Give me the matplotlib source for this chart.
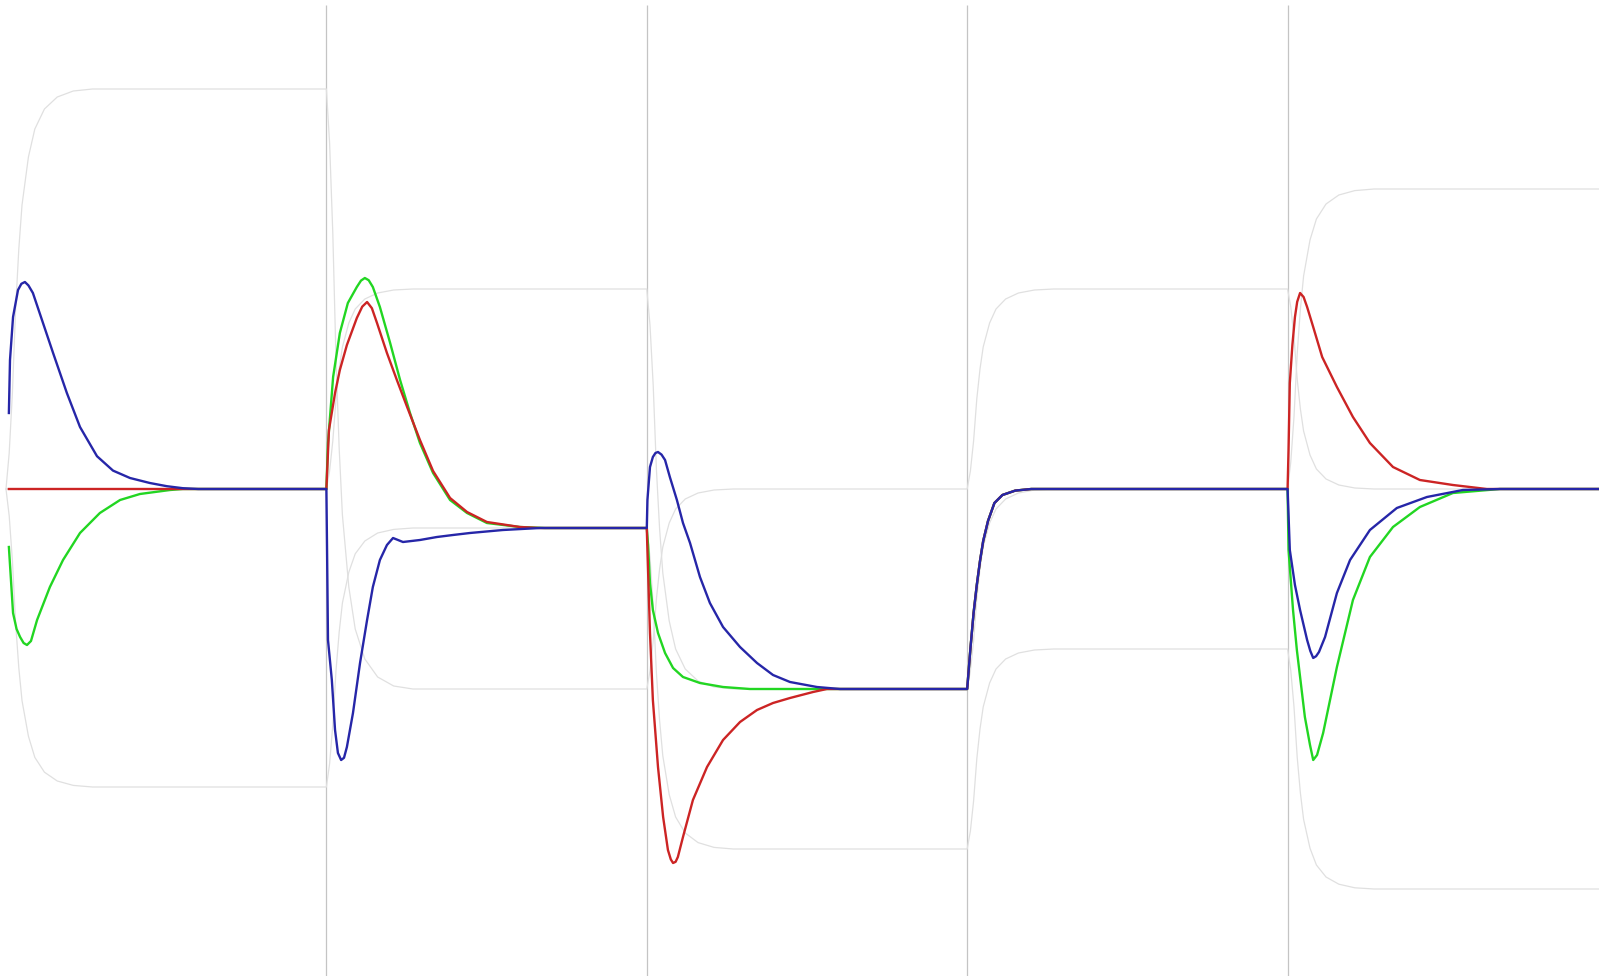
import matplotlib
matplotlib.use("Agg")
import matplotlib.pyplot as plt

# five steps, 100 time units each
panel_starts = [0, 100, 200, 300, 400]
t_last = 498

# settling shape shared by all three channels in step 4
settle_t = [301, 302, 303, 304, 305, 306.5, 308.5, 311, 315, 320, 400]
settle_v = [-40, -31, -24, -18, -13, -8, -3.5, -1.5, -0.4, 0, 0]

# red channel
red_t = ([0.9, 100,
          100.8, 102.7, 104.2, 106.4, 109.5, 111.2, 112.7, 114.2, 115.8, 118.9, 122.0, 125.2,
          129.2, 133.3, 138.6, 143.9, 150.1, 160.4, 166.7, 200,
          200.2, 201.0, 201.9, 203.5, 205.1, 206.6, 207.5, 208.2, 209.0, 209.7, 211.3, 214.4,
          218.8, 223.8, 229.1, 234.4, 239.4, 244.7, 251.9, 256.2, 300]
         + settle_t +
         [400.3, 400.7, 401.5, 402.3, 403.0, 403.9, 405.0, 406.1, 408.0, 410.8, 415.4, 420.4,
          425.7, 432.9, 441.3, 451.6, 462.2, t_last])
red_v = ([0, 0,
          14.75, 24, 29.75, 36, 42.75, 45.6, 46.75, 45.2, 41.5, 34, 27.25, 20.5,
          12.25, 4.5, -2.25, -5.75, -8.25, -9.5, -9.75, -9.75,
          -15.25, -36, -52.75, -69.5, -82, -90.25, -92.6, -93.5, -93.2, -92, -87, -77.75,
          -69.5, -62.75, -58.25, -55.25, -53.5, -52.25, -50.75, -50, -50]
         + settle_v +
         [9.75, 26.5, 36, 43, 46.8, 49, 48, 45.5, 40.5, 33, 25.5, 18,
          11.5, 5.5, 2.25, 1, 0, 0])

# green channel
green_t = ([0.9, 2.2, 3.3, 4.4, 5.5, 6.55, 7.8, 9.7, 13.7, 17.8, 23.1, 29.3, 35.6, 41.8,
            51.2, 55.2, 100,
            100.5, 102.1, 104.2, 106.7, 109.5, 110.8, 112.0, 113.2, 114.5, 116.7, 119.9, 123.0,
            126.1, 129.2, 133.3, 138.6, 143.9, 150.1, 160.4, 168.2, 200,
            200.4, 201.0, 201.9, 203.5, 205.7, 208.2, 211.3, 216.6, 223.8, 232.2, 300]
           + settle_t +
           [400.3, 401.7, 402.9, 405.4, 407.0, 408.0, 409.2, 411.1, 415.4, 420.4, 425.7, 432.9,
            441.3, 451.6, 466.3, t_last])
green_v = ([-14.5, -31, -35, -37, -38.5, -39, -38, -32.75, -24.5, -17.75, -11, -6, -2.75, -1.25,
            -0.25, 0, 0,
            11.5, 28, 39, 46.5, 50.5, 52.1, 52.75, 52.2, 50.5, 45.5, 36.5, 27.25,
            19, 11.5, 4, -2.75, -6, -8.5, -9.5, -9.75, -9.75,
            -14, -23.5, -30.25, -36, -41, -44.75, -47, -48.5, -49.5, -50, -50]
           + settle_v +
           [-15.25, -30.25, -40.25, -57, -64, -67.75, -66.5, -61, -44.5, -27.75, -17, -9.5,
            -4.5, -1, 0, 0])

# blue channel
blue_t = ([0.9, 1.25, 2.2, 3.75, 4.8, 5.9, 7.0, 8.4, 11.55, 14.7, 19.0, 23.1, 28.4, 33.4,
           38.7, 44.9, 50.2, 55.2, 60, 100,
           100.2, 100.5, 101.7, 102.7, 103.6, 104.6, 105.5, 106.4, 108.3, 110.5, 112.7, 114.5,
           116.7, 118.9, 120.8, 123.9, 129.2, 134.5, 139.5, 144.8, 155.1, 166.7, 200,
           200.2, 201.0, 201.9, 202.7, 203.5, 204.6, 205.7, 207.2, 209.4, 211.3, 213.5, 216.6,
           219.7, 223.8, 229.1, 234.4, 239.4, 244.7, 253.1, 260.3, 300]
          + settle_t +
          [400.7, 402.3, 403.9, 406.1, 407.1, 408.0, 408.9, 409.8, 411.7, 415.4, 419.5, 425.7,
           434.1, 443.5, 454.7, 466.3, t_last])
blue_v = ([19, 32.25, 43, 49.75, 51.3, 51.75, 50.9, 49, 41.5, 34, 24, 15.5, 8.2, 4.6,
           2.75, 1.5, 0.7, 0.2, 0, 0,
           -14.5, -37.75, -47.75, -60.25, -66, -67.75, -67.2, -64.5, -56, -43.5, -32.75, -24.5,
           -17.75, -14, -12.25, -13.25, -12.75, -12, -11.5, -11, -10.25, -9.75, -9.75,
           -2.75, 5.5, 8, 9.0, 9.25, 8.6, 7.25, 3, -2.75, -8.5, -13.5, -22,
           -28.5, -34.5, -39.5, -43.5, -46.5, -48.25, -49.5, -50, -50]
          + settle_v +
          [-15.25, -24, -30.25, -37.75, -40.5, -42.25, -41.8, -40.75, -37, -26, -17.75, -10.25,
           -4.75, -2, -0.25, 0, 0])

# light grey target curves: offsets inside a step, then one value list per step
gray_offsets = [0, 1, 2, 3, 4, 5, 7, 9, 12, 16, 21, 27]
gray_a = [
    [0, 9, 24, 45, 60, 71, 83, 90, 95, 98, 99.5, 100],
    [100, 86.5, 64, 32.5, 10, -6.5, -24.5, -35, -42.5, -47, -49.25, -50],
    [-50, -45.5, -38, -27.5, -20, -14.5, -8.5, -5, -2.5, -1, -0.25, 0],
    [0, 4.5, 12, 22.5, 30, 35.5, 41.5, 45, 47.5, 49, 49.75, 50],
    [50, 45.5, 38, 27.5, 20, 14.5, 8.5, 5, 2.5, 1, 0.25, 0],
]
gray_b = [
    [0, 0, 0, 0, 0, 0, 0, 0, 0, 0, 0, 0],
    [0, 4.5, 12, 22.5, 30, 35.5, 41.5, 45, 47.5, 49, 49.75, 50],
    [50, 41, 26, 5, -10, -21, -33, -40, -45, -48, -49.5, -50],
    [-50, -45.5, -38, -27.5, -20, -14.5, -8.5, -5, -2.5, -1, -0.25, 0],
    [0, 6.75, 18, 33.75, 45, 53.25, 62.25, 67.5, 71.25, 73.5, 74.6, 75],
]
gray_c = [
    [0, -6.7, -17.9, -33.5, -44.7, -52.9, -61.8, -67.1, -70.8, -73.0, -74.1, -74.5],
    [-74.5, -68.7, -59.0, -45.4, -35.7, -28.5, -20.8, -16.2, -13.0, -11.0, -10.1, -9.75],
    [-9.75, -17.0, -29.0, -45.9, -57.9, -66.7, -76.4, -82.0, -86.0, -88.4, -89.6, -90],
    [-90, -85.5, -78, -67.5, -60, -54.5, -48.5, -45, -42.5, -41, -40.25, -40],
    [-40, -45.4, -54.4, -67, -76, -82.6, -89.8, -94, -97, -98.8, -99.7, -100],
]

fig = plt.figure(figsize=(15.99, 9.76), dpi=100)
ax = fig.add_axes([0, 0, 1, 1])
ax.set_xlim(-1.87, 497.2)
ax.set_ylim(-121.75, 122.25)
ax.axis('off')

# step dividers
ax.vlines(panel_starts[1:], -122, 121, color='#c4c4c4', lw=0.9)

for curve in (gray_a, gray_b, gray_c):
    tt, vv = [], []
    for i, seg in enumerate(curve):
        start = panel_starts[i]
        end = panel_starts[i + 1] if i + 1 < len(panel_starts) else t_last
        tt += [start + o for o in gray_offsets] + [end]
        vv += seg + [seg[-1]]
    ax.plot(tt, vv, color='#e0e0e0', lw=0.9)

ax.plot(green_t, green_v, color='#22d622', lw=1.7)
ax.plot(red_t, red_v, color='#cc2424', lw=1.7)
ax.plot(blue_t, blue_v, color='#2626a8', lw=1.7)

fig.savefig('out.png', dpi=100)
